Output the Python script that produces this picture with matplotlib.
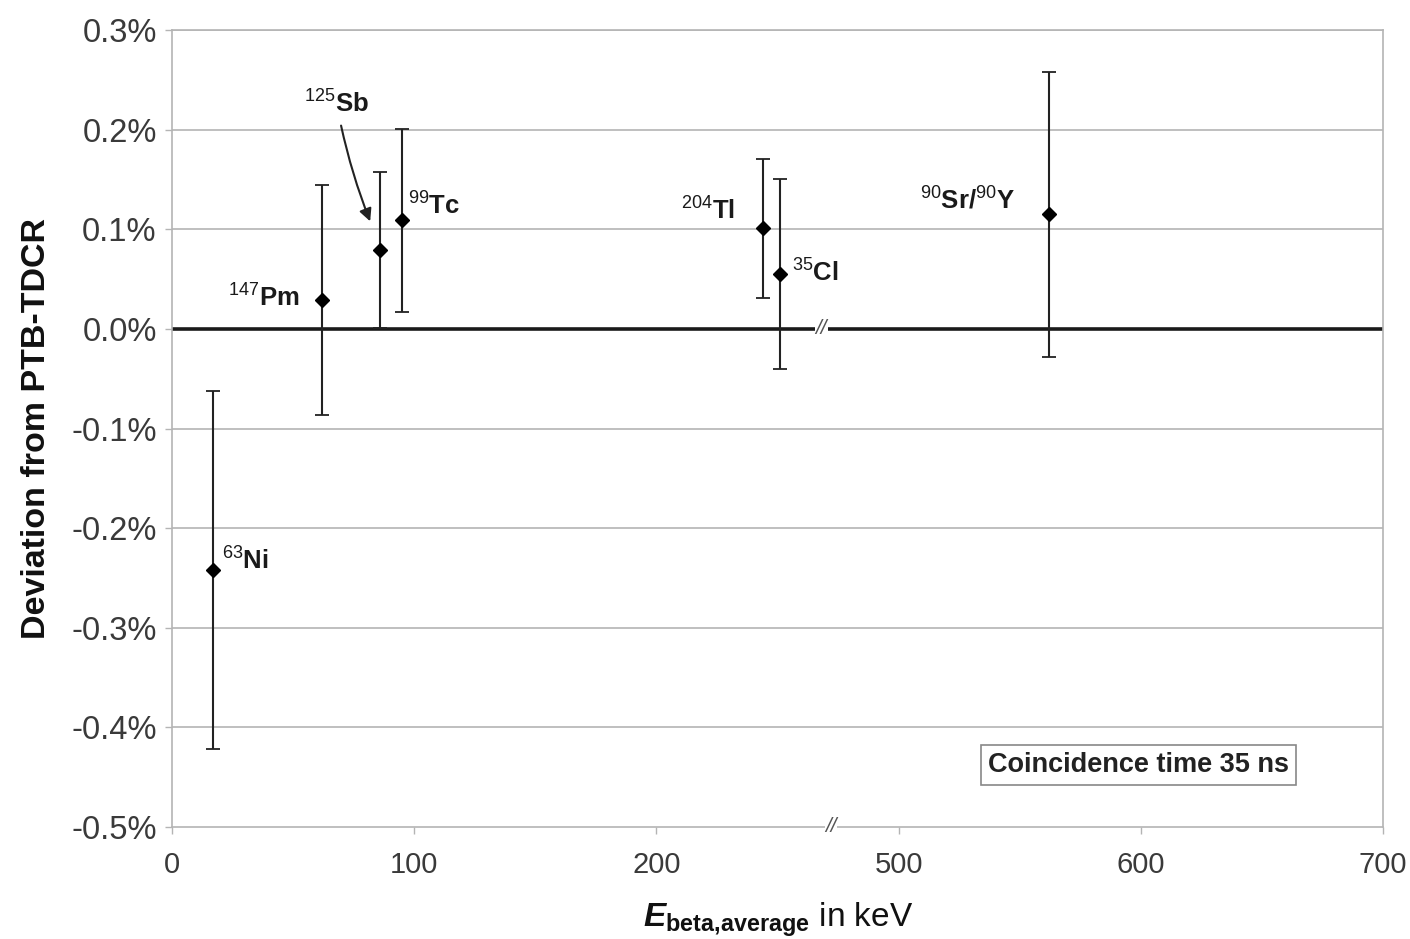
import matplotlib.pyplot as plt
from matplotlib.ticker import FuncFormatter

plt.rcParams['font.family'] = ['Liberation Sans', 'DejaVu Sans']
plt.rcParams['mathtext.fontset'] = 'custom'
plt.rcParams['mathtext.rm'] = 'Liberation Sans'
plt.rcParams['mathtext.it'] = 'Liberation Sans:italic'
plt.rcParams['mathtext.bf'] = 'Liberation Sans:bold'
plt.rcParams['mathtext.bfit'] = 'Liberation Sans:italic:bold'

# data: mean beta energy (keV), deviation (%), uncertainty (%)
nuclides = [r'$^{63}$Ni', r'$^{147}$Pm', r'$^{125}$Sb', r'$^{99}$Tc',
            r'$^{204}$Tl', r'$^{35}$Cl', r'$^{90}$Sr/$^{90}$Y']
energy = [17.0, 62.0, 86.0, 95.0, 244.0, 251.0, 562.0]
deviation = [-0.242, 0.029, 0.079, 0.109, 0.101, 0.055, 0.115]
uncertainty = [0.180, 0.115, 0.078, 0.092, 0.070, 0.095, 0.143]

tick_energy = [0, 100, 200, 500, 600, 700]

# broken axis: everything beyond the break is shifted down by 200 keV
BREAK = 272
SHIFT = 200


def to_axis(e):
    return e if e < BREAK else e - SHIFT


x = [to_axis(e) for e in energy]

fig = plt.figure(figsize=(14.1, 9.39), dpi=100)
ax = fig.add_axes([0.122, 0.1193, 0.859, 0.8487])

for yv in [-0.4, -0.3, -0.2, -0.1, 0.1, 0.2, 0.3]:
    ax.axhline(yv, color='#b4b4b4', lw=1.2, zorder=1)
ax.axhline(0, color='#1a1a1a', lw=2.6, zorder=2)

ax.errorbar(x, deviation, yerr=uncertainty, fmt='D', color='black',
            ecolor='#222222', elinewidth=1.5, capsize=5, capthick=1.3,
            markersize=7, zorder=3)

ax.set_xlim(0, 500)
ax.set_ylim(-0.5, 0.3)
ax.set_xticks([to_axis(e) for e in tick_energy])
ax.set_xticklabels([str(e) for e in tick_energy])
ax.set_yticks([-0.5, -0.4, -0.3, -0.2, -0.1, 0.0, 0.1, 0.2, 0.3])
ax.yaxis.set_major_formatter(FuncFormatter(lambda v, p: '%.1f%%' % v))

for s in ax.spines.values():
    s.set_color('#b4b4b4')
    s.set_linewidth(1.2)
ax.tick_params(axis='both', colors='#b4b4b4', labelcolor='#3a3a3a',
               length=5, width=1)
ax.tick_params(axis='y', labelsize=23.5, pad=6)
ax.tick_params(axis='x', labelsize=21, pad=12)

ax.set_ylabel('Deviation from PTB-TDCR', fontsize=24.5, fontweight='bold',
              labelpad=14, color='#111111')
ax.set_xlabel(r'$\mathbfit{E}_{\mathbf{beta{,}average}}$ in keV', fontsize=24,
              labelpad=16, color='#111111')

# labels of the points
lab_kw = dict(fontsize=18.5, fontweight='bold', color='#1a1a1a', va='center')
ax.text(20.7, -0.233, nuclides[0], ha='left', **lab_kw)
ax.text(52.5, 0.031, nuclides[1], ha='right', **lab_kw)
ax.annotate(nuclides[2], xy=(81.8, 0.108), xytext=(68, 0.226),
            ha='center', arrowprops=dict(arrowstyle='-|>', color='#222222',
                                         lw=1.5, connectionstyle='arc3,rad=0.05',
                                         shrinkA=4, shrinkB=0),
            **lab_kw)
ax.text(97.5, 0.1235, nuclides[3], ha='left', **lab_kw)
ax.text(232.6, 0.118, nuclides[4], ha='right', **lab_kw)
ax.text(256, 0.056, nuclides[5], ha='left', **lab_kw)
ax.text(348, 0.1285, nuclides[6], ha='right', **lab_kw)

# break marks
ax.text(268, 0, '//', ha='center', va='center', fontsize=15,
        color='#555555', style='italic', zorder=4,
        bbox=dict(facecolor='white', edgecolor='none', pad=0.5))
ax.text(BREAK, -0.5, '//', ha='center', va='center', fontsize=15,
        color='#555555', style='italic', clip_on=False, zorder=4,
        bbox=dict(facecolor='white', edgecolor='none', pad=0.5))

ax.text(399, -0.438, 'Coincidence time 35 ns', ha='center', va='center',
        fontsize=19.5, fontweight='bold', color='#222222',
        bbox=dict(facecolor='white', edgecolor='#888888', lw=1.2,
                  boxstyle='square,pad=0.25'))

fig.savefig('out.png', dpi=100)
